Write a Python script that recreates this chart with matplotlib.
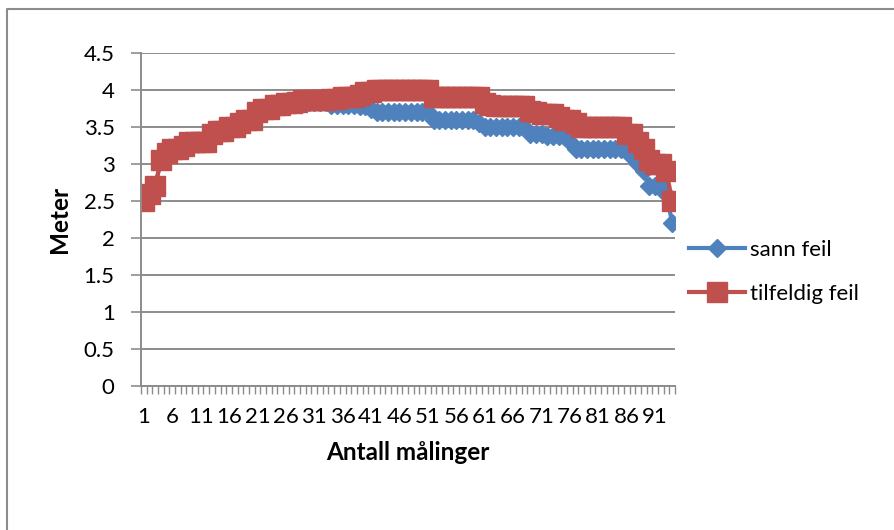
import matplotlib
matplotlib.use("Agg")
import matplotlib.pyplot as plt
from matplotlib.lines import Line2D
import numpy as np

plt.rcParams['font.family'] = ['Lato', 'DejaVu Sans']

# målinger 1..94
sann_feil = [
    2.5, 2.6, 2.7, 3.05, 3.15, 3.2, 3.2, 3.25, 3.3, 3.3,
    3.3, 3.3, 3.4, 3.45, 3.45, 3.5, 3.5, 3.55, 3.6, 3.6,
    3.7, 3.75, 3.75, 3.8, 3.8, 3.82, 3.82, 3.84, 3.84, 3.84,
    3.84, 3.84, 3.84, 3.8, 3.8, 3.8, 3.8, 3.8, 3.78, 3.78,
    3.75, 3.7, 3.7, 3.7, 3.7, 3.7, 3.7, 3.7, 3.7, 3.7,
    3.7, 3.6, 3.6, 3.6, 3.6, 3.6, 3.6, 3.6, 3.6, 3.55,
    3.5, 3.5, 3.5, 3.5, 3.5, 3.5, 3.5, 3.5, 3.4, 3.4,
    3.4, 3.38, 3.38, 3.38, 3.38, 3.3, 3.2, 3.2, 3.2, 3.2,
    3.2, 3.2, 3.2, 3.2, 3.2, 3.2, 3.1, 3.0, 2.9, 2.7,
    2.7, 2.7, 2.6, 2.2,
]
tilfeldig_feil = [
    2.5, 2.6, 2.7, 3.05, 3.15, 3.2, 3.2, 3.25, 3.3, 3.3,
    3.3, 3.3, 3.4, 3.45, 3.45, 3.5, 3.5, 3.55, 3.6, 3.6,
    3.7, 3.75, 3.75, 3.8, 3.8, 3.82, 3.82, 3.84, 3.86, 3.86,
    3.86, 3.86, 3.86, 3.88, 3.88, 3.9, 3.9, 3.9, 3.93, 3.97,
    3.97, 4.0, 4.0, 4.0, 4.0, 4.0, 4.0, 4.0, 4.0, 4.0,
    4.0, 3.9, 3.9, 3.9, 3.9, 3.9, 3.9, 3.9, 3.9, 3.9,
    3.83, 3.8, 3.78, 3.78, 3.78, 3.78, 3.78, 3.78, 3.72, 3.7,
    3.68, 3.68, 3.67, 3.63, 3.6, 3.6, 3.55, 3.5, 3.5, 3.5,
    3.5, 3.5, 3.5, 3.5, 3.5, 3.4, 3.4, 3.3, 3.2, 3.05,
    3.0, 3.0, 2.9, 2.5,
]
maalinger = np.arange(1, len(sann_feil) + 1)

blaa = '#4F81BD'
roed = '#C0504D'
grid_farge = '#8C8C8C'

fig = plt.figure(figsize=(8.95, 5.3), dpi=100)
ax = fig.add_axes([141 / 895, 1 - 386 / 530, (675 - 141) / 895, (386 - 53) / 530])

ax.plot(maalinger, sann_feil, color=blaa, lw=3, marker='D', ms=9.5,
        label='sann feil', solid_joinstyle='round')
ax.plot(maalinger, tilfeldig_feil, color=roed, lw=3, marker='s', ms=14,
        label='tilfeldig feil', solid_joinstyle='round')

ax.set_xlim(0.5, len(maalinger) + 0.5)
ax.set_ylim(0, 4.5)
ax.set_yticks(np.arange(0, 4.51, 0.5))
ax.set_yticklabels(['0', '0.5', '1', '1.5', '2', '2.5', '3', '3.5', '4', '4.5'])
ax.yaxis.grid(True, color=grid_farge, lw=1.4)
ax.set_axisbelow(True)

# kategori-etiketter hver 5. måling, tick-streker mellom kategoriene
ax.set_xticks(maalinger[::5])
ax.set_xticklabels([str(m) for m in maalinger[::5]])
ax.set_xticks(np.arange(0.5, len(maalinger) + 1, 1), minor=True)
ax.tick_params(axis='x', which='major', length=0, pad=15, labelsize=16)
ax.tick_params(axis='x', which='minor', length=6, width=1, color=grid_farge)
ax.tick_params(axis='y', length=7, width=1.2, color=grid_farge, pad=12, labelsize=16)

for side in ['top', 'right']:
    ax.spines[side].set_visible(False)
for side in ['left', 'bottom']:
    ax.spines[side].set_color(grid_farge)
    ax.spines[side].set_linewidth(1.4)

ax.set_xlabel('Antall målinger', fontsize=17.5, fontweight='bold', labelpad=10)
ax.set_ylabel('Meter', fontsize=17.5, fontweight='bold', labelpad=9)

ax.legend(loc='center left', bbox_to_anchor=(689 / 895, 1 - 272 / 530),
          bbox_transform=fig.transFigure, frameon=False, borderpad=0,
          borderaxespad=0, fontsize=16, handlelength=2.5, handletextpad=0.25,
          labelspacing=1.1)

# ramme rundt diagrammet
fig.add_artist(Line2D([7 / 895, 7 / 895, 1.0], [0.0, 1 - 9 / 530, 1 - 9 / 530],
                      transform=fig.transFigure, color='#8C8C8C', lw=1.5))

fig.savefig('out.png', dpi=100)
